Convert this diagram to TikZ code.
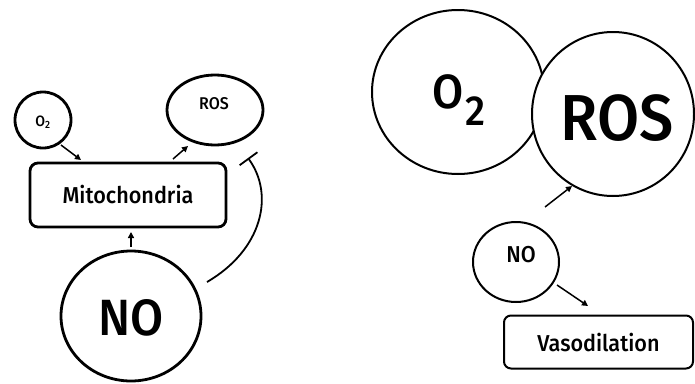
\documentclass[tikz,border=0pt]{standalone}
\usepackage{fontspec}
\setmainfont{Fira Sans}[UprightFont=* Medium, FakeStretch=0.94]
\usetikzlibrary{arrows.meta}
\newcommand{\fsz}[1]{\fontsize{#1}{#1}\selectfont}
\begin{document}
\begin{tikzpicture}[x=1pt,y=-1pt,
  thickline/.style={line width=2.8pt},
  thinline/.style={line width=2pt},
  arr/.style={line width=1.5pt,-{Triangle[length=6pt,width=6pt]}},
  inh/.style={line width=1.8pt,-{Bar[width=22pt,line width=1.8pt]}}
]
\useasboundingbox (0,0) rectangle (695,383);
% ---- left panel ----
\draw[thickline] (43,120) ellipse [x radius=28,y radius=28];
\node (o2l) at (43,122) {\fsz{15}O\textsubscript{2}};
\draw[thickline] (215,110) ellipse [x radius=48,y radius=35];
\node (rosl) at (214,104) {\fsz{17}ROS};
\node[draw,thickline,rounded corners=8pt,minimum width=196pt,minimum height=64pt,inner sep=0pt] (mito) at (128,195) {\fsz{23}Mitochondria};
\draw[thickline] (131,316) ellipse [x radius=70,y radius=65];
\node (nol) at (131,318) {\fsz{51}NO};
\coordinate (a1s) at (61,145); \coordinate (a1e) at (81,160);
\coordinate (a2s) at (173,159); \coordinate (a2e) at (188,146);
\coordinate (a3s) at (131,247); \coordinate (a3e) at (131,232);
\coordinate (i1s) at (207,282); \coordinate (i1e) at (248,158);
\draw[arr] (a1s) -- (a1e);
\draw[arr] (a2s) -- (a2e);
\draw[arr] (a3s) -- (a3e);
\draw[inh] (i1s) .. controls (262,250) and (275,195) .. (i1e);
% ---- right panel ----
\draw[thinline] (458,92) ellipse [x radius=86,y radius=82];
\node (o2r) at (459,100) {\fsz{48}O\hspace{2pt}\raisebox{-0.36em}{\fsz{42}2}};
\draw[thinline,fill=white] (613,114) ellipse [x radius=81,y radius=82];
\node (rosr) at (617,118) {\fsz{65}ROS};
\draw[thinline] (516,262) ellipse [x radius=43,y radius=40];
\node (nor) at (521,255) {\fsz{23}NO};
\node[draw,thinline,rounded corners=7pt,minimum width=189pt,minimum height=53pt,inner sep=0pt] (vaso) at (598.5,342) {\fsz{23}Vasodilation};
\coordinate (b1s) at (545,207); \coordinate (b1e) at (572,186);
\coordinate (b2s) at (557,285); \coordinate (b2e) at (588,306);
\draw[arr] (b1s) -- (b1e);
\draw[arr] (b2s) -- (b2e);
\end{tikzpicture}
\end{document}
